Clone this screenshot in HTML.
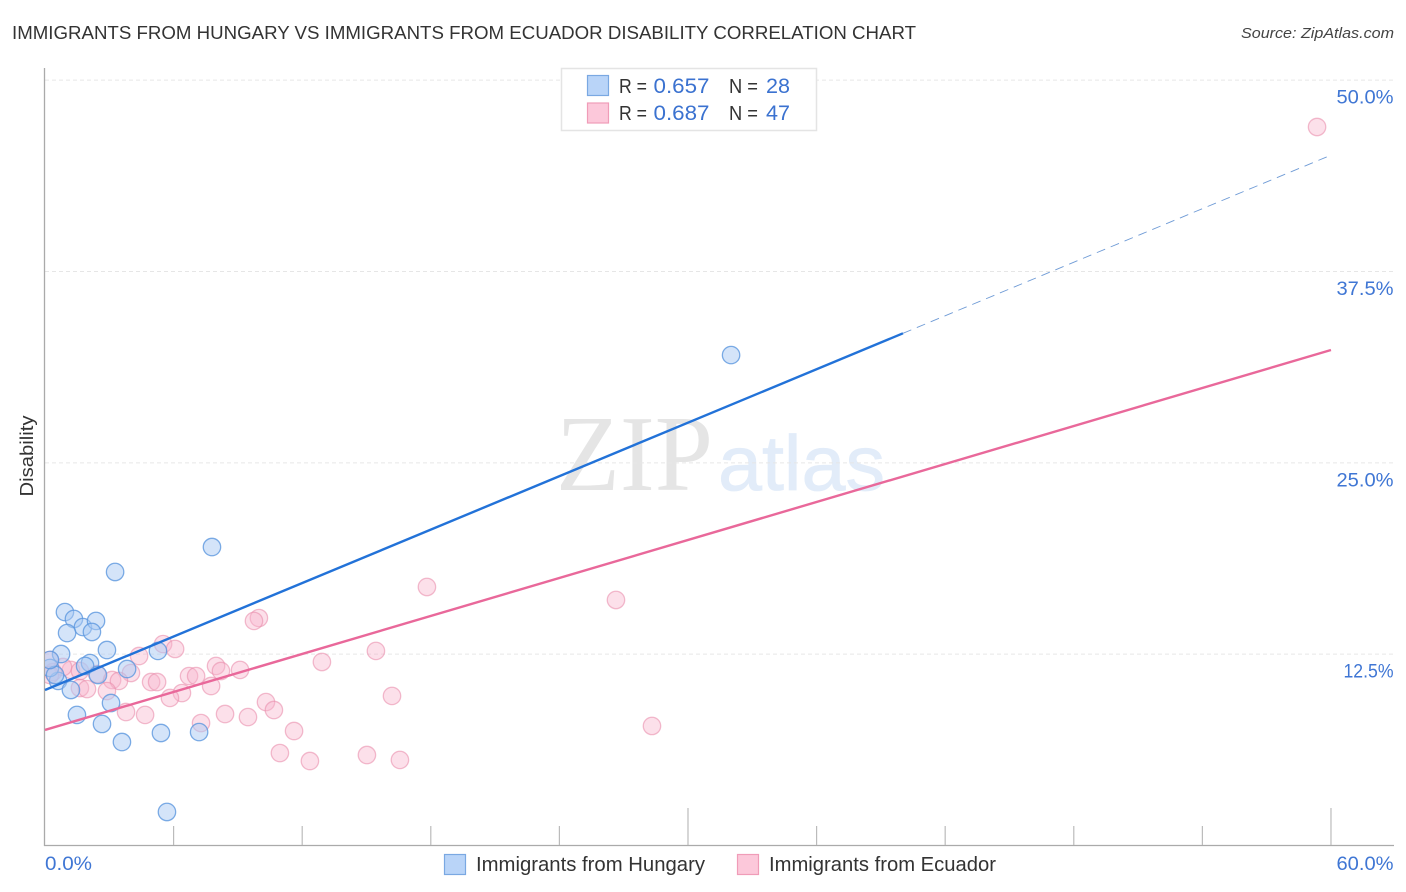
<!DOCTYPE html>
<html>
<head>
<meta charset="utf-8">
<title>Immigrants from Hungary vs Immigrants from Ecuador Disability Correlation Chart</title>
<style>
html,body{margin:0;padding:0;background:#fff;width:1406px;height:892px;overflow:hidden}
svg{display:block}
text{font-family:"Liberation Sans",sans-serif}
</style>
</head>
<body>
<svg id="chart" xmlns="http://www.w3.org/2000/svg" width="1406" height="892" viewBox="0 0 1406 892">
<defs><clipPath id="plot-clip"><rect x="45" y="60" width="1349" height="785"/></clipPath></defs>
<text x="12" y="39" font-size="18.5" fill="#333" textLength="904" lengthAdjust="spacingAndGlyphs">IMMIGRANTS FROM HUNGARY VS IMMIGRANTS FROM ECUADOR DISABILITY CORRELATION CHART</text>
<text x="1241" y="38" font-size="15" font-style="italic" fill="#444" textLength="153" lengthAdjust="spacingAndGlyphs">Source: ZipAtlas.com</text>
<g id="watermark">
<text x="556" y="490" font-size="108" fill="#e5e5e5" textLength="157" lengthAdjust="spacingAndGlyphs" style="font-family:'Liberation Serif',serif">ZIP</text>
<text x="718" y="490" font-size="78" fill="#e2ecf9" stroke="#e2ecf9" stroke-width="0.8" textLength="167" lengthAdjust="spacingAndGlyphs">atlas</text>
</g>
<g id="grid"></g>
<g id="axes"></g>
<g id="points" clip-path="url(#plot-clip)"></g>
<g id="trends"></g>
<g id="labels"></g>
<text transform="translate(33,456) rotate(-90)" text-anchor="middle" font-size="18" fill="#333" textLength="81" lengthAdjust="spacingAndGlyphs">Disability</text>
<g>
<rect x="561.5" y="68.5" width="255" height="62" fill="#fff" stroke="#e4e4e4" stroke-width="1.5"/>
<rect x="587.5" y="75.5" width="21" height="20" fill="#b9d4f8" stroke="#7aa8e2" stroke-width="1.2"/>
<rect x="587.5" y="103" width="21" height="20" fill="#fcc8da" stroke="#f09cb8" stroke-width="1.2"/>
<text x="619" y="93" font-size="20" fill="#333" textLength="28" lengthAdjust="spacingAndGlyphs">R =</text>
<text x="653.5" y="93" font-size="21.5" fill="#3b72d0" textLength="56" lengthAdjust="spacingAndGlyphs">0.657</text>
<text x="729" y="93" font-size="20" fill="#333" textLength="29" lengthAdjust="spacingAndGlyphs">N =</text>
<text x="766" y="93" font-size="21.5" fill="#3b72d0" textLength="24" lengthAdjust="spacingAndGlyphs">28</text>
<text x="619" y="120" font-size="20" fill="#333" textLength="28" lengthAdjust="spacingAndGlyphs">R =</text>
<text x="653.5" y="120" font-size="21.5" fill="#3b72d0" textLength="56" lengthAdjust="spacingAndGlyphs">0.687</text>
<text x="729" y="120" font-size="20" fill="#333" textLength="29" lengthAdjust="spacingAndGlyphs">N =</text>
<text x="766" y="120" font-size="21.5" fill="#3b72d0" textLength="24" lengthAdjust="spacingAndGlyphs">47</text>
</g>
<g>
<rect x="444.5" y="854.5" width="21" height="20" fill="#b9d4f8" stroke="#7aa8e2" stroke-width="1.2"/>
<text x="476" y="871" font-size="20" fill="#333" textLength="229" lengthAdjust="spacingAndGlyphs">Immigrants from Hungary</text>
<rect x="737.5" y="854.5" width="21" height="20" fill="#fcc8da" stroke="#f09cb8" stroke-width="1.2"/>
<text x="769" y="871" font-size="20" fill="#333" textLength="227" lengthAdjust="spacingAndGlyphs">Immigrants from Ecuador</text>
</g>
</svg>
<script>
var hungaryX = [32.01,3.27,7.79,0.93,1.35,1.77,2.38,1.03,2.19,2.89,5.27,0.75,2.10,1.87,3.83,2.47,0.61,1.21,3.08,1.49,2.66,5.41,7.19,3.59,5.69,0.23,0.47,0.23];
var hungaryY = [32.04,17.87,19.50,15.25,14.80,14.27,14.67,13.88,13.95,12.77,12.71,12.51,11.92,11.73,11.53,11.14,10.75,10.16,9.31,8.53,7.94,7.35,7.41,6.76,2.19,11.60,11.14,12.12];
var ecuadorX = [59.35,26.64,17.82,15.44,16.19,28.32,15.02,16.56,9.98,9.75,7.98,8.21,9.10,6.72,7.05,7.75,6.39,12.92,10.31,10.68,8.40,9.47,7.28,11.62,10.96,12.36,5.51,6.07,4.39,1.21,0.84,0.37,0.23,0.23,2.43,4.01,3.13,3.45,1.63,1.96,2.89,4.95,5.23,3.78,4.67,5.83,1.63];
var ecuadorY = [46.94,16.04,16.89,12.71,9.77,7.81,5.91,5.59,14.86,14.67,11.73,11.40,11.47,11.07,11.07,10.42,9.96,11.99,9.37,8.85,8.59,8.39,8.00,7.48,6.04,5.52,13.16,12.84,12.38,11.47,11.66,11.33,12.12,11.14,11.20,11.27,10.81,10.75,10.29,10.22,10.09,10.68,10.68,8.72,8.53,9.64,11.40];
var hungaryTrendX = [0,40.03,60];
var hungaryTrendY = [10.16,33.46,45.1];
var ecuadorTrendX = [0,60];
var ecuadorTrendY = [7.55,32.37];
var yTicks = [12.5,25,37.5,50];
var yTickLabels = ["12.5%","25.0%","37.5%","50.0%"];
var xTicks = [0,6,12,18,24,30,36,42,48,54,60];
var xMajorTicks = [30,60];
var xEndLabels = ["0.0%","60.0%"];
var xEndValues = [0,60];

var NS = 'http://www.w3.org/2000/svg';
function sx(v){ return 45 + v * 21.433; }
function sy(v){ return 845.5 - v * 15.307; }
function make(tag, attrs, parent){
  var el = document.createElementNS(NS, tag);
  for (var k in attrs) el.setAttribute(k, attrs[k]);
  document.getElementById(parent).appendChild(el);
  return el;
}
// Reference tick font is wider than Liberation; the "1" is narrower.
function labelWidth(s){ return s.charAt(0) === '1' ? 50 : (s.length > 4 ? 57 : 47); }
var el, i;

for (i = 0; i < yTicks.length; i++) {
  el = make('line', {x1:45, x2:1394, y1:sy(yTicks[i]), y2:sy(yTicks[i]), stroke:'#e6e6e6', 'stroke-width':1, 'stroke-dasharray':'4 3'}, 'grid');
  
  
  el = make('text', {x:1393.5 - labelWidth(yTickLabels[i]), y:sy(yTicks[i]) + 23.5, 'font-size':19, fill:'#3f76d4', textLength:labelWidth(yTickLabels[i]), lengthAdjust:'spacingAndGlyphs'}, 'labels');
  
  
  el.textContent = yTickLabels[i];
}

el = make('line', {x1:44.5, x2:44.5, y1:68, y2:846, stroke:'#aaaaaa', 'stroke-width':1.3}, 'axes');


el = make('line', {x1:44, x2:1394, y1:845.5, y2:845.5, stroke:'#aaaaaa', 'stroke-width':1.3}, 'axes');



for (i = 0; i < xTicks.length; i++) {
  if (xTicks[i] === 0) continue;
  var major = xMajorTicks.indexOf(xTicks[i]) >= 0;
  el = make('line', {x1:sx(xTicks[i]), x2:sx(xTicks[i]), y1:major ? 808 : 826, y2:845, stroke:'#bbbbbb', 'stroke-width':1.2}, 'axes');
  
  
}

for (i = 0; i < xEndValues.length; i++) {
  el = make('text', {x: i === 0 ? 45 : 1393.5 - labelWidth(xEndLabels[i]), y:870, 'font-size':19, fill:'#3f76d4', textLength:labelWidth(xEndLabels[i]), lengthAdjust:'spacingAndGlyphs'}, 'labels');
  
  
  el.textContent = xEndLabels[i];
}

for (i = 0; i < ecuadorX.length; i++) {
  el = make('circle', {cx:sx(ecuadorX[i]), cy:sy(ecuadorY[i]), r:8.7, fill:'#f9b4cc', 'fill-opacity':0.42, stroke:'#ea8fae', 'stroke-opacity':0.6, 'stroke-width':1.3}, 'points');
  
  
}
for (i = 0; i < hungaryX.length; i++) {
  el = make('circle', {cx:sx(hungaryX[i]), cy:sy(hungaryY[i]), r:8.7, fill:'#a9caf3', 'fill-opacity':0.5, stroke:'#5d97de', 'stroke-opacity':0.8, 'stroke-width':1.3}, 'points');
  
  
}

el = make('line', {x1:sx(hungaryTrendX[0]), y1:sy(hungaryTrendY[0]), x2:sx(hungaryTrendX[1]), y2:sy(hungaryTrendY[1]), stroke:'#2272d8', 'stroke-width':2.4}, 'trends');


el = make('line', {x1:sx(hungaryTrendX[1]), y1:sy(hungaryTrendY[1]), x2:sx(hungaryTrendX[2]), y2:sy(hungaryTrendY[2]), stroke:'#6f9bd6', 'stroke-width':0.9, 'stroke-dasharray':'9 6'}, 'trends');


el = make('line', {x1:sx(ecuadorTrendX[0]), y1:sy(ecuadorTrendY[0]), x2:sx(ecuadorTrendX[1]), y2:sy(ecuadorTrendY[1]), stroke:'#e9689a', 'stroke-width':2.4}, 'trends');


</script>
</body>
</html>
